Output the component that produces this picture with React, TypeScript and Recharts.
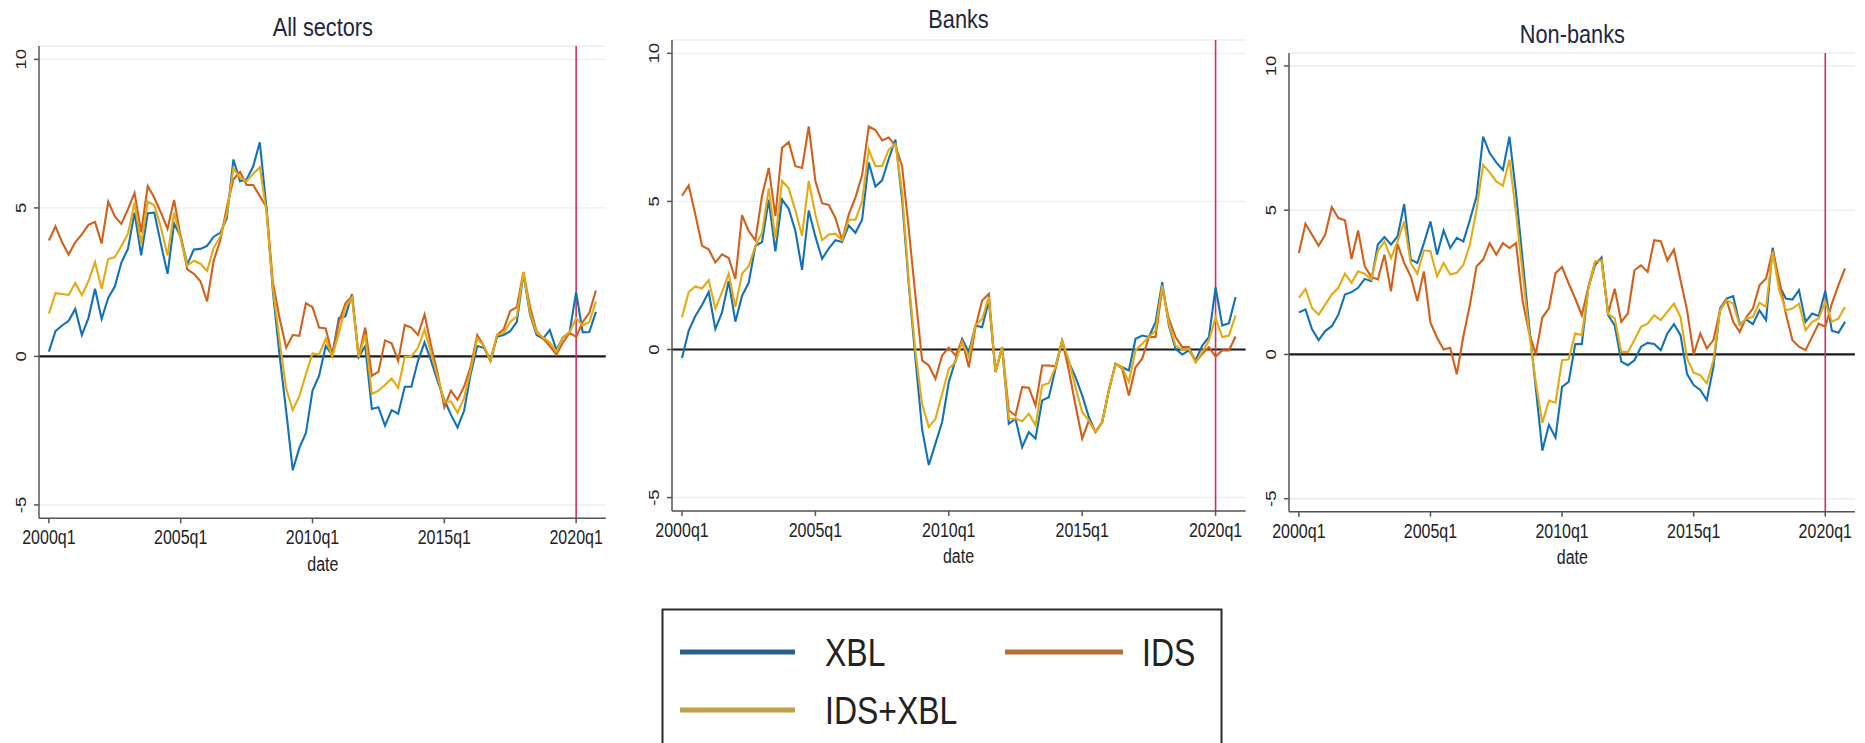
import React from 'react';
import { LineChart, Line, XAxis, YAxis, CartesianGrid, ReferenceLine } from 'recharts';

// ---------- categories / ticks ----------
const XTICKS = [0, 20, 40, 60, 80];
const XTICK_LABELS = ['2000q1', '2005q1', '2010q1', '2015q1', '2020q1'];
const YTICKS = [-5, 0, 5, 10];
const PANEL_TITLES = ['All sectors', 'Banks', 'Non-banks'];
const SERIES_NAMES = ['XBL', 'IDS', 'IDS+XBL'];
const X_LABEL = 'date';
const MARK_INDEX = 80; // 2020q1

// ---------- All sectors (2000q1 .. 2020q4) ----------
const allXBL = [
  0.16, 0.85, 1.04, 1.2, 1.6, 0.72, 1.29, 2.28, 1.26, 1.97,
  2.35, 3.16, 3.63, 4.84, 3.4, 4.82, 4.84, 3.78, 2.78, 4.47,
  4.03, 3.1, 3.6, 3.62, 3.72, 4.03, 4.16, 4.65, 6.63, 5.9,
  5.96, 6.4, 7.21, 5.03, 2.16, 0.04, -1.83, -3.83, -3.08, -2.58,
  -1.15, -0.65, 0.35, 0.04, 1.29, 1.35, 2.1, -0.02, 0.35, -1.77,
  -1.71, -2.33, -1.81, -1.93, -1.02, -1.02, -0.15, 0.47, -0.15, -0.84,
  -1.46, -1.96, -2.39, -1.83, -0.59, 0.35, 0.29, -0.15, 0.66, 0.72,
  0.85, 1.16, 2.78, 1.41, 0.72, 0.6, 0.89, 0.22, 0.64, 0.81,
  2.16, 0.81, 0.82, 1.5,
];
const allIDS = [
  3.9, 4.38, 3.84, 3.43, 3.84, 4.11, 4.43, 4.53, 3.8, 5.21,
  4.71, 4.46, 4.96, 5.5, 4.18, 5.74, 5.34, 4.84, 4.3, 5.27,
  4.03, 2.93, 2.78, 2.53, 1.85, 3.22, 3.9, 5.02, 5.96, 6.21,
  5.77, 5.77, 5.4, 5.03, 2.47, 1.29, 0.29, 0.72, 0.69, 1.79,
  1.66, 0.97, 0.94, 0.04, 1.16, 1.79, 2.03, -0.02, 0.97, -0.65,
  -0.52, 0.54, 0.44, -0.15, 1.06, 0.97, 0.72, 1.41, 0.35, -0.59,
  -1.71, -1.15, -1.46, -1.02, -0.34, 0.72, 0.35, -0.15, 0.72, 0.91,
  1.53, 1.66, 2.84, 1.66, 0.85, 0.6, 0.35, 0.06, 0.47, 0.79,
  0.66, 1.16, 1.47, 2.22,
];
const allBoth = [
  1.44, 2.13, 2.1, 2.07, 2.47, 2.06, 2.53, 3.18, 2.28, 3.28,
  3.34, 3.72, 4.13, 5.18, 3.78, 5.21, 5.09, 4.34, 3.4, 4.84,
  3.96, 3.05, 3.22, 3.12, 2.88, 3.65, 4.03, 4.8, 6.33, 6.02,
  5.9, 6.15, 6.37, 4.9, 2.28, 0.54, -1.09, -1.81, -1.34, -0.59,
  0.1, 0.06, 0.6, 0.0, 0.79, 1.66, 1.97, -0.02, 0.72, -1.27,
  -1.15, -0.96, -0.74, -1.06, -0.02, 0.01, 0.29, 0.91, 0.1, -0.71,
  -1.52, -1.52, -1.9, -1.4, -0.46, 0.6, 0.35, -0.15, 0.72, 0.79,
  1.16, 1.35, 2.84, 1.47, 0.79, 0.64, 0.47, 0.16, 0.64, 0.81,
  1.29, 1.04, 1.16, 1.85,
];

// ---------- Banks ----------
const banksXBL = [
  -0.29, 0.63, 1.13, 1.5, 1.94, 0.69, 1.25, 2.31, 0.94, 1.81,
  2.25, 3.5, 3.63, 5.06, 3.31, 5.06, 4.75, 4.0, 2.69, 4.69,
  3.81, 3.06, 3.41, 3.69, 3.63, 4.19, 3.94, 4.38, 6.31, 5.5,
  5.71, 6.44, 7.09, 5.06, 2.19, -0.31, -2.7, -3.9, -3.18, -2.45,
  -1.1, -0.37, 0.36, -0.09, 0.81, 0.75, 1.65, -0.76, 0.08, -2.51,
  -2.34, -3.3, -2.79, -3.01, -1.72, -1.61, -0.65, 0.3, -0.43, -0.93,
  -1.55, -2.28, -2.79, -2.45, -1.38, -0.48, -0.6, -0.71, 0.36, 0.47,
  0.42, 0.92, 2.27, 0.81, 0.02, -0.17, -0.03, -0.37, 0.13, 0.42,
  2.1, 0.81, 0.89, 1.77,
];
const banksIDS = [
  5.19, 5.54, 4.56, 3.5, 3.38, 2.94, 3.21, 3.09, 2.38, 4.54,
  4.0, 3.69, 5.19, 6.13, 4.5, 6.81, 7.0, 6.19, 6.13, 7.53,
  5.69, 4.94, 4.88, 4.44, 3.69, 4.56, 5.13, 5.88, 7.53, 7.41,
  7.06, 7.16, 6.88, 6.19, 4.06, 1.81, -0.37, -0.54, -0.99, -0.2,
  0.06, -0.2, 0.3, -0.6, 0.75, 1.65, 1.88, -0.76, 0.06, -2.06,
  -2.23, -1.27, -1.29, -1.89, -0.54, -0.54, -0.57, 0.3, -0.71, -1.89,
  -3.01, -2.4, -2.79, -2.45, -1.38, -0.48, -0.65, -1.55, -0.6, -0.31,
  0.42, 0.42, 2.05, 1.03, 0.42, 0.08, 0.08, -0.43, -0.15, 0.08,
  -0.24, -0.03, -0.03, 0.44,
];
const banksBoth = [
  1.09, 1.94, 2.13, 2.06, 2.34, 1.38, 1.94, 2.56, 1.44, 2.56,
  2.81, 3.5, 3.94, 5.44, 3.75, 5.69, 5.44, 4.69, 3.84, 5.69,
  4.56, 3.69, 3.88, 3.91, 3.69, 4.38, 4.38, 5.0, 6.75, 6.19,
  6.19, 6.75, 6.94, 5.31, 2.31, -0.06, -1.85, -2.62, -2.34, -1.5,
  -0.65, -0.43, 0.25, -0.26, 0.81, 1.03, 1.77, -0.76, 0.08, -2.34,
  -2.34, -2.42, -2.17, -2.56, -1.21, -1.14, -0.6, 0.3, -0.37, -1.27,
  -2.11, -2.4, -2.79, -2.45, -1.38, -0.48, -0.6, -1.1, -0.03, 0.19,
  0.42, 0.64, 2.16, 0.87, 0.13, -0.01, 0.02, -0.43, -0.09, 0.3,
  1.07, 0.42, 0.47, 1.15,
];

// ---------- Non-banks ----------
const nonbanksXBL = [
  1.46, 1.56, 0.87, 0.5, 0.81, 0.98, 1.38, 2.08, 2.16, 2.31,
  2.62, 2.54, 3.81, 4.07, 3.81, 4.09, 5.21, 3.29, 3.17, 3.86,
  4.61, 3.46, 4.3, 3.69, 4.04, 3.92, 4.67, 5.48, 7.55, 6.98,
  6.66, 6.4, 7.55, 5.6, 3.29, 0.98, -1.15, -3.33, -2.44, -2.88,
  -1.12, -0.95, 0.36, 0.36, 2.34, 3.09, 3.36, 1.36, 1.01, -0.25,
  -0.37, -0.2, 0.27, 0.4, 0.36, 0.15, 0.73, 1.05, 0.67, -0.68,
  -1.06, -1.23, -1.58, -0.43, 1.59, 1.94, 2.02, 1.05, 1.21, 1.05,
  1.53, 1.19, 3.7, 2.4, 1.94, 1.9, 2.23, 1.13, 1.42, 1.33,
  2.2, 0.82, 0.75, 1.13,
];
const nonbanksIDS = [
  3.52, 4.53, 4.15, 3.77, 4.15, 5.11, 4.73, 4.65, 3.31, 4.3,
  3.06, 2.69, 2.6, 3.46, 2.19, 3.83, 3.17, 2.71, 1.85, 2.88,
  1.1, 0.58, 0.17, 0.23, -0.69, 0.63, 1.73, 3.06, 3.29, 3.86,
  3.46, 3.86, 3.69, 3.86, 1.85, 0.75, 0.0, 1.28, 1.6, 2.82,
  3.03, 2.46, 1.94, 1.36, 2.34, 3.21, 3.29, 1.42, 2.28, 1.13,
  1.42, 2.92, 3.09, 2.86, 3.96, 3.93, 3.26, 3.64, 2.57, 1.53,
  0.0, 0.73, 0.21, 0.5, 1.53, 1.88, 1.13, 0.78, 1.3, 1.59,
  2.4, 2.63, 3.61, 2.57, 1.42, 0.5, 0.27, 0.15, 0.61, 1.07,
  0.96, 1.76, 2.4, 2.98,
];
const nonbanksBoth = [
  1.96, 2.27, 1.61, 1.38, 1.73, 2.08, 2.31, 2.8, 2.48, 2.88,
  2.8, 2.6, 3.58, 3.92, 3.34, 3.92, 4.61, 3.17, 2.8, 3.61,
  3.58, 2.71, 3.17, 2.77, 2.83, 3.11, 3.81, 5.02, 6.57, 6.31,
  6.0, 5.85, 6.75, 4.9, 2.83, 0.75, -0.95, -2.37, -1.6, -1.67,
  -0.2, -0.17, 0.73, 0.67, 2.28, 3.21, 3.26, 1.4, 1.25, 0.09,
  0.09, 0.5, 0.96, 1.07, 1.36, 1.19, 1.48, 1.76, 1.3, -0.14,
  -0.63, -0.72, -1.0, -0.2, 1.53, 1.88, 1.76, 1.01, 1.25, 1.3,
  1.79, 1.65, 3.55, 2.23, 1.53, 1.59, 1.76, 0.84, 1.13, 1.25,
  1.82, 1.13, 1.25, 1.65,
];

// ---------- styling ----------
const FONT = '"Liberation Sans", Arial, Helvetica, sans-serif';
const SX = 0.82; // horizontal squeeze of the original figure
const C_XBL = '#1272b5';
const C_IDS = '#d2601a';
const C_BOTH = '#e4aa12';
const L_XBL = '#2b6189';
const L_IDS = '#b66d3a';
const L_BOTH = '#bda24c';
const C_MARK = '#d0305c';
const AXIS = '#555';
const X_DOMAIN: [number, number] = [-1.5, 84.5];
const Y_DOMAIN: [number, number] = [-5.45, 10.45];

const makeData = (a: number[], b: number[], c: number[]) =>
  a.map((v, i) => ({ i, xbl: v, ids: b[i], both: c[i] }));

const PANELS = [
  { title: PANEL_TITLES[0], data: makeData(allXBL, allIDS, allBoth), left: 39.4, right: 606.2, top: 46.3, bottom: 518.6, titleY: 36 },
  { title: PANEL_TITLES[1], data: makeData(banksXBL, banksIDS, banksBoth), left: 671.7, right: 1245.3, top: 40, bottom: 510.9, titleY: 27.5 },
  { title: PANEL_TITLES[2], data: makeData(nonbanksXBL, nonbanksIDS, nonbanksBoth), left: 1289.4, right: 1855.3, top: 53.2, bottom: 511.9, titleY: 42.5 },
];

const XTick = (props: any) => {
  const { x, y, payload } = props;
  const idx = XTICKS.indexOf(payload.value);
  return (
    <text transform={`translate(${x},${y + 18}) scale(${SX},1)`} textAnchor="middle"
      fontSize={19.5} fill="#222" fontFamily={FONT}>{XTICK_LABELS[idx]}</text>
  );
};

const YTick = (props: any) => {
  const { x, y, payload } = props;
  return (
    <text transform={`translate(${x - 5},${y}) scale(${SX},1) rotate(-90)`} textAnchor="middle"
      fontSize={18.5} fill="#222" fontFamily={FONT}>{String(payload.value)}</text>
  );
};

const PAD_L = 50, PAD_T = 10, PAD_B = 70, PAD_R = 6;

function Panel({ p }: { p: typeof PANELS[number] }) {
  const plotW = p.right - p.left;
  const plotH = p.bottom - p.top;
  const W = PAD_L + plotW + PAD_R;
  const H = PAD_T + plotH + PAD_B;
  return (
    <div style={{ position: 'absolute', left: p.left - PAD_L, top: p.top - PAD_T }}>
      <LineChart width={W} height={H} data={p.data}
        margin={{ top: PAD_T, right: PAD_R, bottom: 0, left: 0 }}>
        <CartesianGrid vertical={false} stroke="#eceef1" strokeWidth={1.4} />
        <XAxis type="number" dataKey="i" domain={X_DOMAIN} ticks={XTICKS} height={PAD_B}
          tick={<XTick />} tickSize={5} tickMargin={3}
          axisLine={{ stroke: AXIS, strokeWidth: 1.5 }} tickLine={{ stroke: AXIS, strokeWidth: 1.5 }}
          allowDataOverflow />
        <YAxis type="number" domain={Y_DOMAIN} ticks={YTICKS} width={PAD_L}
          tick={<YTick />} tickSize={5} tickMargin={3}
          axisLine={{ stroke: AXIS, strokeWidth: 1.5 }} tickLine={{ stroke: AXIS, strokeWidth: 1.5 }}
          allowDataOverflow />
        <ReferenceLine y={0} stroke="#1a1a1a" strokeWidth={2.2} />
        <ReferenceLine x={MARK_INDEX} stroke={C_MARK} strokeWidth={1.6} />
        <Line type="linear" dataKey="xbl" name={SERIES_NAMES[0]} stroke={C_XBL} strokeWidth={2.1} dot={false} isAnimationActive={false} />
        <Line type="linear" dataKey="ids" name={SERIES_NAMES[1]} stroke={C_IDS} strokeWidth={2.1} dot={false} isAnimationActive={false} />
        <Line type="linear" dataKey="both" name={SERIES_NAMES[2]} stroke={C_BOTH} strokeWidth={2.1} dot={false} isAnimationActive={false} />
      </LineChart>
    </div>
  );
}

function SqText({ x, y, size, anchor = 'start', fill = '#222', children }: any) {
  return (
    <text transform={`translate(${x},${y}) scale(${SX},1)`} textAnchor={anchor} fontSize={size}
      fill={fill} fontFamily={FONT}>{children}</text>
  );
}

export default function App() {
  return (
    <div style={{ position: 'absolute', left: 0, top: 0, width: 1865, height: 743, background: '#fff', overflow: 'hidden' }}>
      {PANELS.map((p, k) => <Panel key={k} p={p} />)}
      <svg width={1865} height={743} style={{ position: 'absolute', left: 0, top: 0, pointerEvents: 'none' }}>
        {PANELS.map((p, k) => (
          <g key={k}>
            <SqText x={(p.left + p.right) / 2} y={p.titleY} size={26.5} anchor="middle" fill="#1e2640">{p.title}</SqText>
            <SqText x={(p.left + p.right) / 2} y={p.bottom + 52} size={19.5} anchor="middle">{X_LABEL}</SqText>
          </g>
        ))}
        {/* legend */}
        <rect x={662.5} y={609.5} width={559} height={200} fill="#fff" stroke="#2a2a2a" strokeWidth={2} />
        <line x1={680} x2={795} y1={652} y2={652} stroke={L_XBL} strokeWidth={5} />
        <SqText x={825} y={666} size={39}>{SERIES_NAMES[0]}</SqText>
        <line x1={1005} x2={1123} y1={652} y2={652} stroke={L_IDS} strokeWidth={5} />
        <SqText x={1142} y={666} size={39}>{SERIES_NAMES[1]}</SqText>
        <line x1={680} x2={795} y1={710} y2={710} stroke={L_BOTH} strokeWidth={5} />
        <SqText x={825} y={724} size={39}>{SERIES_NAMES[2]}</SqText>
      </svg>
    </div>
  );
}
